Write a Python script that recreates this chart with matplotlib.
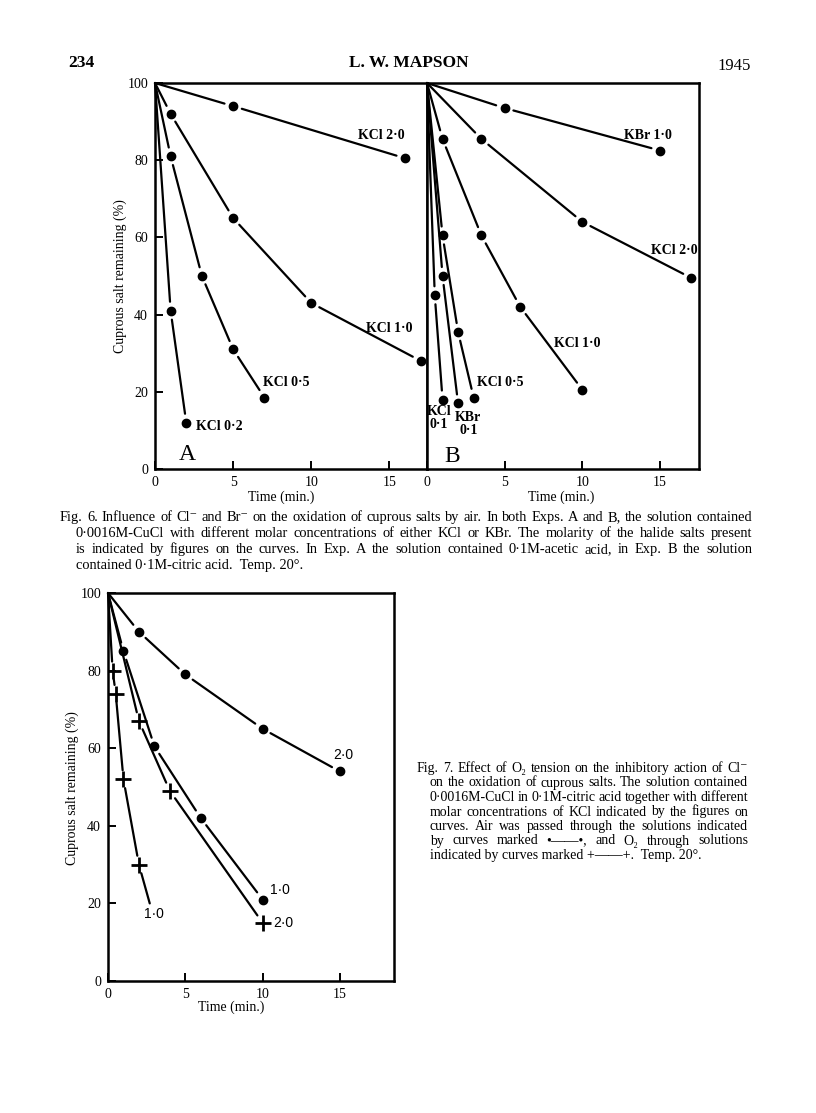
import matplotlib
matplotlib.use('Agg')
import matplotlib.pyplot as plt

plt.rcParams['font.family'] = ['Liberation Serif', 'DejaVu Serif']

W, H = 816, 1113

# ---- Fig. 6A (0.1 M acetic acid), time in min, cuprous salt remaining in %
a_kcl20_t = [0, 5, 16]
a_kcl20_y = [100, 94, 80.5]
a_kcl10_t = [0, 1, 5, 10, 17]
a_kcl10_y = [100, 92, 65, 43, 28]
a_kcl05_t = [0, 1, 3, 5, 7]
a_kcl05_y = [100, 81, 50, 31, 18.5]
a_kcl02_t = [0, 1, 2]
a_kcl02_y = [100, 41, 12]

# ---- Fig. 6B (0.1 M citric acid)
b_kbr10_t = [0, 5, 15]
b_kbr10_y = [100, 93.5, 82.5]
b_kcl20_t = [0, 3.5, 10, 17]
b_kcl20_y = [100, 85.5, 64, 49.5]
b_kcl10_t = [0, 1, 3.5, 6, 10]
b_kcl10_y = [100, 85.5, 60.5, 42, 20.5]
b_kcl05_t = [0, 1, 2, 3]
b_kcl05_y = [100, 60.5, 35.5, 18.5]
b_kbr01_t = [0, 1, 2]
b_kbr01_y = [100, 50, 17]
b_kcl01_t = [0, 0.5, 1]
b_kcl01_y = [100, 45, 18]

# ---- Fig. 7 (air = dots, O2 = crosses)
air20_t = [0, 2, 5, 10, 15]
air20_y = [100, 90, 79, 65, 54]
air10_t = [0, 1, 3, 6, 10]
air10_y = [100, 85, 60.5, 42, 21]
o2_20_t = [0, 2, 4, 10]
o2_20_y = [100, 67, 49, 15]
o2_10_t = [0, 0.3, 0.5, 1, 2, 2.7]   # last point: curve end, no symbol
o2_10_y = [100, 80, 74, 52, 30, 20]

cap6 = [
    'Fig. 6.  Influence of Cl\u207b and Br\u207b on the oxidation of cuprous salts by air.  In both Exps. A and B, the solution contained',
    '0\u00b70016M-CuCl with different molar concentrations of either KCl or KBr. The molarity of the halide salts present',
    'is indicated by figures on the curves.  In Exp. A the solution contained 0\u00b71M-acetic acid, in Exp. B the solution',
    'contained 0\u00b71M-citric acid.  Temp. 20\u00b0.',
]
cap7 = [
    'Fig. 7.  Effect of O\u2082 tension on the inhibitory action of Cl\u207b',
    'on the oxidation of cuprous salts.  The solution contained',
    '0\u00b70016M-CuCl in 0\u00b71M-citric acid together with different',
    'molar concentrations of KCl indicated by the figures on',
    'curves.  Air was passed through the solutions indicated',
    'by curves marked \u2022\u2014\u2014\u2022, and O\u2082 through solutions',
    'indicated by curves marked +\u2014\u2014+.  Temp. 20\u00b0.',
]


def box(x0, y0, x1, y1):
    # pixel box -> figure fraction rect
    return [x0 / W, 1 - y1 / H, (x1 - x0) / W, (y1 - y0) / H]


def ftext(x, y, s, **kw):
    return fig.text(x / W, 1 - y / H, s, **kw)


def justify(x0, x1, y, s, last=False, **kw):
    # set a caption line word by word, spread to fill x0..x1 (pixels)
    yb = y + 4  # baseline
    if last:
        ftext(x0, yb, s, va='baseline', **kw)
        return
    words = s.split()
    r = fig.canvas.get_renderer()
    ts = [ftext(0, yb, w, va='baseline', **kw) for w in words]
    ws = [t.get_window_extent(r).width for t in ts]
    gap = (x1 - x0 - sum(ws)) / (len(words) - 1)
    x = x0
    for t, w in zip(ts, ws):
        t.set_x(x / W)
        x += w + gap


def style(ax, xmax):
    ax.set_xlim(0, xmax)
    ax.set_ylim(0, 100)
    for sp in ax.spines.values():
        sp.set_linewidth(1.8)
    ax.tick_params(direction='in', length=6, width=1.4, labelsize=10, pad=5)


def curve(ax, t, y, mk='o', open_end=False, gap=6.5):
    n = len(t)
    for i in range(n - 1):
        sa = gap if i > 0 else 0
        sb = 0 if (open_end and i == n - 2) else gap
        ax.annotate('', xy=(t[i + 1], y[i + 1]), xytext=(t[i], y[i]),
                    arrowprops=dict(arrowstyle='-', lw=1.6, color='k',
                                    shrinkA=sa, shrinkB=sb))
    end = n - 1 if open_end else n
    if mk == 'o':
        ax.plot(t[1:end], y[1:end], 'o', ms=6, color='k', zorder=5)
    else:
        ax.plot(t[1:end], y[1:end], '+', ms=11, mew=2, color='k', zorder=5)


fig = plt.figure(figsize=(W / 100, H / 100), dpi=100)

# page header
ftext(68, 63, '234', fontsize=12.5, fontweight='bold', va='center')
ftext(409, 63, 'L. W. MAPSON', fontsize=12.5, fontweight='bold', va='center', ha='center')
ftext(751, 66, '1945', fontsize=12, va='center', ha='right')

# ---------------- Fig. 6
axa = fig.add_axes(box(155, 83, 427, 469))
axb = fig.add_axes(box(427, 83, 699, 469))
style(axa, 17.4)
style(axb, 17.5)
axa.set_xticks([0, 5, 10, 15])
axa.set_yticks([0, 20, 40, 60, 80, 100])
axb.set_xticks([0, 5, 10, 15])
axb.set_yticks([])

curve(axa, a_kcl20_t, a_kcl20_y)
curve(axa, a_kcl10_t, a_kcl10_y)
curve(axa, a_kcl05_t, a_kcl05_y)
curve(axa, a_kcl02_t, a_kcl02_y)
lab = dict(fontsize=10, fontweight='bold', va='center')
axa.text(13.0, 86.5, 'KCl 2\u00b70', **lab)
axa.text(13.5, 36.5, 'KCl 1\u00b70', **lab)
axa.text(6.9, 22.5, 'KCl 0\u00b75', **lab)
axa.text(2.6, 10.9, 'KCl 0\u00b72', **lab)
axa.text(2.05, 3.8, 'A', fontsize=17, ha='center', va='center')

curve(axb, b_kbr10_t, b_kbr10_y)
curve(axb, b_kcl20_t, b_kcl20_y)
curve(axb, b_kcl10_t, b_kcl10_y)
curve(axb, b_kcl05_t, b_kcl05_y)
curve(axb, b_kbr01_t, b_kbr01_y)
curve(axb, b_kcl01_t, b_kcl01_y)
axb.text(12.7, 86.3, 'KBr 1\u00b70', **lab)
axb.text(14.4, 56.5, 'KCl 2\u00b70', **lab)
axb.text(8.2, 32.4, 'KCl 1\u00b70', **lab)
axb.text(3.2, 22.3, 'KCl 0\u00b75', **lab)
axb.text(0.77, 13.2, 'KCl\n0\u00b71', ha='center', linespacing=0.95, **lab)
axb.text(2.65, 11.6, 'KBr\n0\u00b71', ha='center', linespacing=0.95, **lab)
axb.text(1.6, 3.3, 'B', fontsize=17, ha='center', va='center')

ftext(120, 276, 'Cuprous salt remaining (%)', fontsize=10, rotation=90,
      ha='center', va='center')
ftext(281, 497, 'Time (min.)', fontsize=10, ha='center', va='center')
ftext(561, 497, 'Time (min.)', fontsize=10, ha='center', va='center')

for i, s in enumerate(cap6):
    justify(60 if i == 0 else 76, 752, 517 + 16 * i, s,
            last=(i == len(cap6) - 1), fontsize=10.4)

# ---------------- Fig. 7
axc = fig.add_axes(box(108, 593, 394, 981))
style(axc, 18.5)
axc.set_xticks([0, 5, 10, 15])
axc.set_yticks([0, 20, 40, 60, 80, 100])

curve(axc, air20_t, air20_y)
curve(axc, air10_t, air10_y)
curve(axc, o2_20_t, o2_20_y, mk='+')
curve(axc, o2_10_t, o2_10_y, mk='+', open_end=True)
lab7 = dict(fontsize=10, va='center', family=['Liberation Sans', 'DejaVu Sans'])
axc.text(15.2, 58.2, '2\u00b70', ha='center', **lab7)
axc.text(10.5, 23.5, '1\u00b70', **lab7)
axc.text(10.7, 15.0, '2\u00b70', **lab7)
axc.text(2.3, 17.3, '1\u00b70', **lab7)

ftext(72, 788, 'Cuprous salt remaining (%)', fontsize=10, rotation=90,
      ha='center', va='center')
ftext(231, 1007, 'Time (min.)', fontsize=10, ha='center', va='center')

for i, s in enumerate(cap7):
    justify(417 if i == 0 else 430, 748, 768 + 14.5 * i, s,
            last=(i == len(cap7) - 1), fontsize=10)

fig.savefig('out.png', dpi=100)
